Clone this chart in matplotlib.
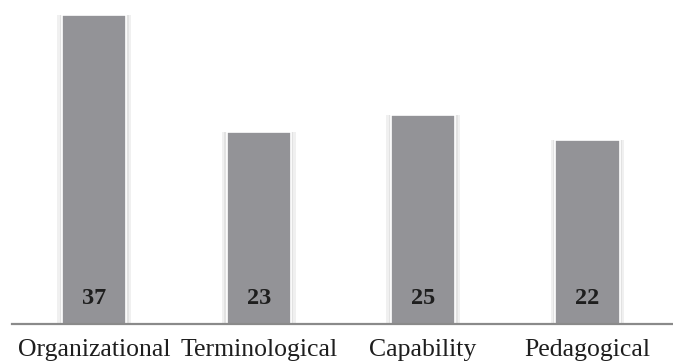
import matplotlib.pyplot as plt
import numpy as np

categories = ['Organizational', 'Terminological', 'Capability', 'Pedagogical']
counts = [37, 23, 25, 22]

plt.rcParams['font.family'] = ['Liberation Serif', 'DejaVu Serif']

fig = plt.figure(figsize=(6.73, 3.63), dpi=100)
ax = fig.add_axes([12 / 673, 39 / 363, 661 / 673, 324 / 363])

x = np.arange(len(categories))
bar_w = 0.39

# soft halo behind each bar
ax.bar(x, counts, width=bar_w + 0.06, color='#f0f0f0', zorder=1)
ax.bar(x, counts, width=bar_w + 0.03, color='#e2e2e2', zorder=1)
ax.bar(x, counts, width=bar_w, color='#939397', edgecolor='white', linewidth=1.2, zorder=2)

for xi, v in zip(x, counts):
    ax.text(xi, 3.1, str(v), ha='center', va='center', fontsize=17.5,
            fontweight='bold', color='#1e1e1e', zorder=3)

ax.set_xlim(-0.5, 3.52)
ax.set_ylim(0, 38.8)
ax.set_xticks(x)
ax.set_xticklabels(categories, fontsize=18.5, color='#1e1e1e')
ax.tick_params(axis='x', length=0, pad=11)
ax.set_yticks([])
for side in ['top', 'right', 'left']:
    ax.spines[side].set_visible(False)
ax.spines['bottom'].set_color('#8a8a8a')
ax.spines['bottom'].set_linewidth(1.6)

fig.savefig('out.png', dpi=100)
